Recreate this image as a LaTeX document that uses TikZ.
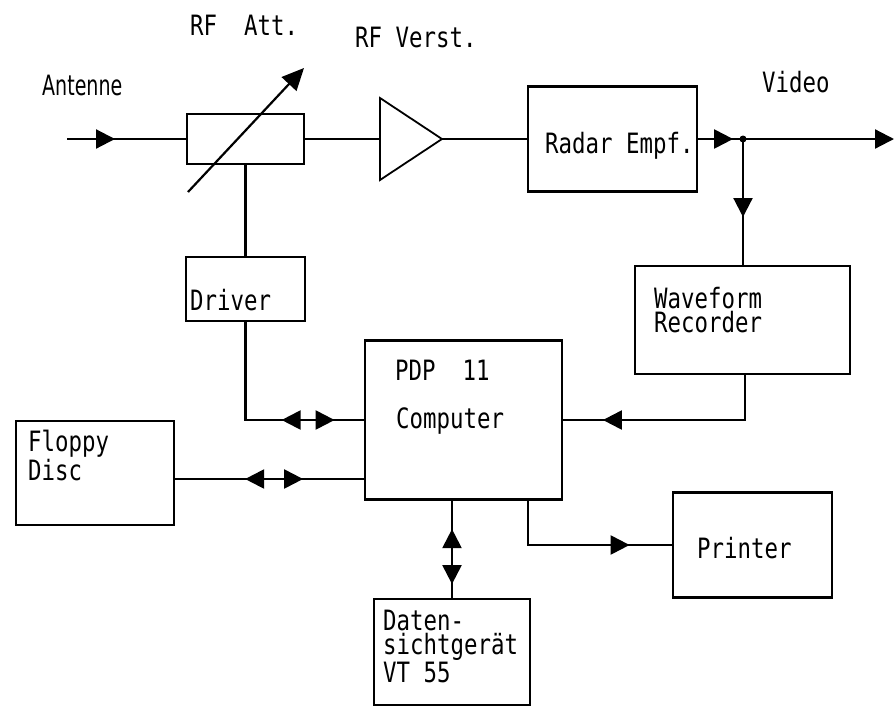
\documentclass[tikz,border=0pt]{standalone}
\usepackage{fontspec}
\usetikzlibrary{arrows.meta,decorations.markings}
\newfontfamily\diafont[FakeStretch=0.8]{DejaVu Sans Mono}
\newfontfamily\antfont[FakeStretch=0.68]{DejaVu Sans}
\tikzset{
  box/.style={draw, line width=2.2pt, inner sep=0pt},
  wire/.style={line width=2.2pt},
  txt/.style={font=\diafont\fontsize{28}{24}\selectfont, inner sep=0pt, anchor=base west, align=left},
  tip/.style={-{Triangle[length=19pt,width=19pt]}},
  fwd/.style={postaction={decorate, decoration={markings,
      mark=at position #1 with {\arrow{Triangle[length=19pt,width=19pt]}}}}},
  bwd/.style={postaction={decorate, decoration={markings,
      mark=at position #1 with {\arrowreversed{Triangle[length=19pt,width=19pt]}}}}}
}
\begin{document}
\begin{tikzpicture}[x=1pt,y=-1pt]
    \useasboundingbox (0,0) rectangle (896,707);
    % Draw the boxes
    \node[box, minimum width=117pt, minimum height=50pt] (att) at (245.5,139) {};
    \node[box, minimum width=119pt, minimum height=64pt] (driver) at (245.5,289) {};
    \node[box, minimum width=169pt, minimum height=105pt] (radar) at (612.5,139) {};
    \node[box, minimum width=215pt, minimum height=108pt] (wave) at (742.5,320) {};
    \node[box, minimum width=197pt, minimum height=159pt] (comp) at (463.5,420) {};
    \node[box, minimum width=158pt, minimum height=104pt] (floppy) at (95,473) {};
    \node[box, minimum width=159pt, minimum height=105pt] (printer) at (752.5,545) {};
    \node[box, minimum width=156pt, minimum height=106pt] (dat) at (452,652) {};
    % Draw the amplifier
    \coordinate (ampin) at (380,139);
    \coordinate (ampout) at (442,139);
    \draw[line width=1.8pt] (380,98) -- (ampout) -- (380,180) -- cycle;
    % Draw the attenuator arrow
    \coordinate (attlo) at (188,192);
    \coordinate (atthi) at (304,68);
    \draw[wire, -{Triangle[length=22pt,width=20pt]}] (attlo) -- (atthi);
    % Draw the signal path
    \coordinate (in) at (67,139);
    \coordinate (jn) at (743,139);
    \coordinate (out) at (894,139);
    \draw[wire, fwd=48pt] (in) -- (att.west);
    \draw[wire] (att.east) -- (ampin);
    \draw[wire] (ampout) -- (radar.west);
    \draw[wire, fwd=35pt] (radar.east) -- (jn);
    \draw[wire, tip] (jn) -- (out);
    \draw[wire, fwd=78pt] (jn) -- (jn |- wave.north);
    \fill (jn) circle (3.5);
    % Draw the control and data lines
    \draw[wire] (att.south) -- (driver.north);
    \draw[wire, bwd=134pt, fwd=187pt] (driver.south) |- (comp.west);
    \coordinate (fl) at ([yshift=-6pt]floppy.east);
    \draw[wire, bwd=70pt, fwd=128pt] (fl) -- (fl -| comp.west);
    \draw[wire, fwd=187pt] ([xshift=2.5pt]wave.south) |- (comp.east);
    \draw[wire, fwd=146pt] ([xshift=64.5pt]comp.south) |- (printer.west);
    \draw[wire, bwd=28.5pt, fwd=83.5pt] (dat.north |- comp.south) -- (dat.north);
    % Draw the labels
    \node[txt] (attlbl) at (190,35) {RF\ \ Att.};
    \node[txt] (amplbl) at (355,47) {RF Verst.};
    \node[txt, font=\antfont\fontsize{28}{24}\selectfont] (antlbl) at (42,95) {Antenne};
    \node[txt] (vidlbl) at (762,92) {Video};
    \node[txt] (radarlbl) at (545,153) {Radar Empf.};
    \node[txt] (driverlbl) at (190,310) {Driver};
    \node[txt] (wavelbl) at (654,332) {Waveform\\Recorder};
    \node[txt] (pdplbl) at (395,380) {PDP\ \ 11};
    \node[txt] (complbl) at (396,428) {Computer};
    \node[txt] (floppylbl) at (28,480) {Floppy\\Disc};
    \node[txt] (printerlbl) at (697,558) {Printer};
    \node[txt] (datlbl) at (383,682) {Daten-\\sichtgerät\\VT 55};
\end{tikzpicture}
\end{document}
